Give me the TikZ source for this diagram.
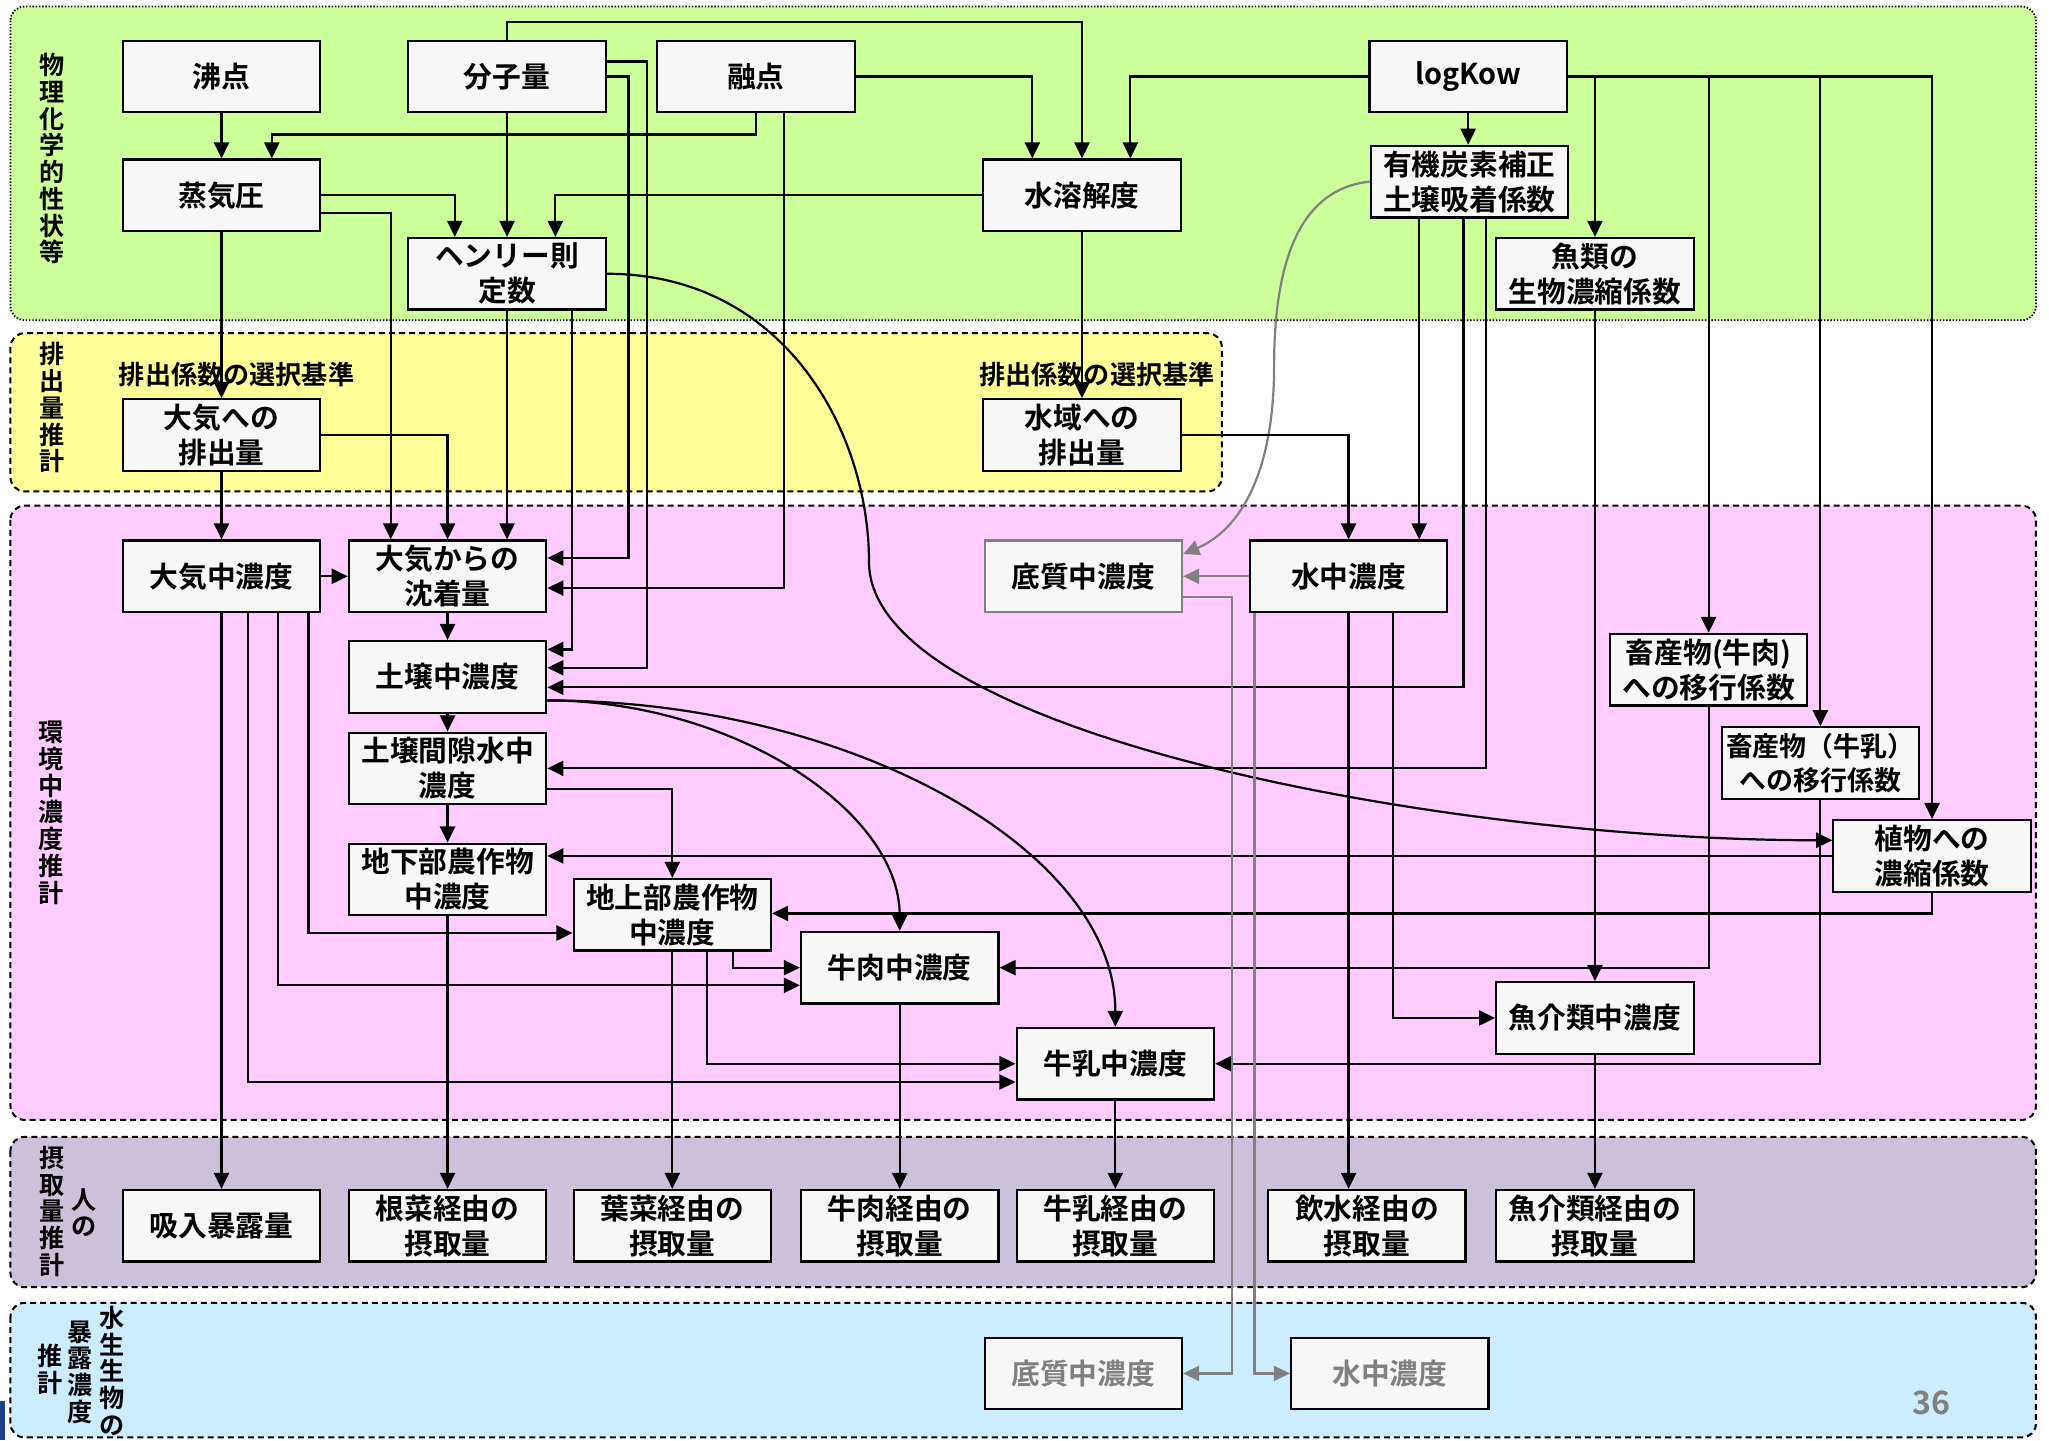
\documentclass[tikz,border=0pt]{standalone}
\usepackage{fontspec}
\setmainfont{Noto Sans CJK JP}[BoldFont={Noto Sans CJK JP Bold}]
\usetikzlibrary{arrows.meta}
\definecolor{cgreen}{HTML}{CCFF99}
\definecolor{cyellow}{HTML}{FFFF99}
\definecolor{cpink}{HTML}{FFCCFF}
\definecolor{clav}{HTML}{CCC0DA}
\definecolor{cblue}{HTML}{CCECFF}
\definecolor{boxfill}{HTML}{F7F7F7}
\definecolor{cgray}{HTML}{808080}
\definecolor{cnavy}{HTML}{1F3F8F}
\begin{document}
\begin{tikzpicture}[x=0.65pt,y=-0.65pt,
  box/.style={draw=black,line width=1.1pt,fill=boxfill,minimum width=98.2pt,minimum height=35.6pt,inner sep=0pt,align=center,font=\bfseries\fontsize{14.3}{17.4}\selectfont},
  gbox/.style={box,draw=cgray},
  tbox/.style={box,text=cgray},
  side/.style={inner sep=0pt,align=center,font=\bfseries\fontsize{12.5}{13.3}\selectfont},
  lbl/.style={inner sep=0pt,font=\bfseries\fontsize{13}{15}\selectfont},
  con/.style={line width=1.1pt,-{Triangle[length=8pt,width=7.5pt]}},
  gcon/.style={con,draw=cgray},
  panel/.style={line width=1pt,dash pattern=on 3pt off 2pt,rounded corners=7pt},
  dpanel/.style={line width=0.9pt,dash pattern=on 0.7pt off 0.9pt,rounded corners=7pt}]
\useasboundingbox (0,0) rectangle (1568,1102);
\fill[white] (0,0) rectangle (1568,1102);
% panels
\draw[dpanel,fill=cgreen] (8,5) rectangle (1558,245);
\draw[panel,fill=cyellow] (8,255) rectangle (935,376);
\draw[panel,fill=cpink] (8,387) rectangle (1558,857);
\draw[panel,fill=clav] (8,870) rectangle (1558,985);
\draw[panel,fill=cblue] (8,997) rectangle (1558,1100);
\fill[cnavy] (0,1072) rectangle (4,1102);
% side labels
\node[side] (s1) at (40,121.5) {物\\理\\化\\学\\的\\性\\状\\等};
\node[side] (s2) at (40,312) {排\\出\\量\\推\\計};
\node[side] (s3) at (39,622) {環\\境\\中\\濃\\度\\推\\計};
\node[side] (s4) at (39.5,927) {摂\\取\\量\\推\\計};
\node[side] (s5) at (64,928) {人\\の};
\node[side] (s6) at (85.5,1049) {水\\生\\生\\物\\の};
\node[side] (s7) at (61.6,1050) {暴\\露\\濃\\度};
\node[side] (s8) at (38.5,1048) {推\\計};
\node[lbl] (l1) at (181,287) {排出係数の選択基準};
\node[lbl] (l2) at (839.5,287) {排出係数の選択基準};
\node[inner sep=0pt,text=cgray,font=\bfseries\fontsize{16}{18}\selectfont] (pg) at (1478,1073.5) {36};
% nodes
\node[box] (futten) at (169.5,58.5) {沸点};
\node[box] (bunshi) at (388,58.5) {分子量};
\node[box] (yuten) at (578.5,58.5) {融点};
\node[box] (logkow) at (1123.5,58.5) {logKow};
\node[box] (joki) at (169.5,149.5) {蒸気圧};
\node[box] (suiyo) at (828,149.5) {水溶解度};
\node[box] (koc) at (1124.5,139) {有機炭素補正\\土壌吸着係数};
\node[box] (henry) at (388,209.5) {ヘンリー則\\定数};
\node[box] (bcf) at (1220.5,209.5) {魚類の\\生物濃縮係数};
\node[box] (taihai) at (169.5,333) {大気への\\排出量};
\node[box] (suihai) at (828,333) {水域への\\排出量};
\node[box] (taiki) at (169.5,441) {大気中濃度};
\node[box] (chaku) at (342.5,441) {大気からの\\沈着量};
\node[gbox] (teishitsu) at (829,441) {底質中濃度};
\node[box] (suichu) at (1032,441) {水中濃度};
\node[box] (dojo) at (342.5,518) {土壌中濃度};
\node[box] (gyunikuk) at (1307.5,512.5) {畜産物(牛肉)\\への移行係数};
\node[box] (kangeki) at (342.5,588) {土壌間隙水中\\濃度};
\node[box,font=\bfseries\fontsize{13.4}{17.4}\selectfont] (gyunyuk) at (1393,584) {畜産物（牛乳）\\への移行係数};
\node[box] (shoku) at (1478.5,655) {植物への\\濃縮係数};
\node[box] (chika) at (342.5,673) {地下部農作物\\中濃度};
\node[box] (chijo) at (514.5,700) {地上部農作物\\中濃度};
\node[box] (gyuniku) at (688.5,740.5) {牛肉中濃度};
\node[box] (gyokai) at (1220.5,779) {魚介類中濃度};
\node[box] (gyunyu) at (853.5,814) {牛乳中濃度};
\node[box] (kyunyu) at (169.5,938) {吸入暴露量};
\node[box] (konsai) at (342.5,938) {根菜経由の\\摂取量};
\node[box] (yosai) at (514.5,938) {葉菜経由の\\摂取量};
\node[box] (nikui) at (688.5,938) {牛肉経由の\\摂取量};
\node[box] (nyui) at (853.5,938) {牛乳経由の\\摂取量};
\node[box] (insui) at (1046,938) {飲水経由の\\摂取量};
\node[box] (gyokaii) at (1220.5,938) {魚介類経由の\\摂取量};
\node[tbox] (teishitsub) at (829,1051) {底質中濃度};
\node[tbox] (suichub) at (1063.5,1051) {水中濃度};
% connectors: physchem
\draw[con] (futten.south) -- (joki.north);
\draw[con] (yuten.south) -- (yuten.south |- 0,103) -- (208,103) -- (joki.north -| 208,0);
\draw[con] (bunshi.north) -- (388,17) -- (828,17) -- (suiyo.north);
\draw[con] (yuten.east) -- (790,58.5) -- (suiyo.north -| 790,0);
\draw[con] (logkow.west) -- (865,58.5) -- (suiyo.north -| 865,0);
\draw[con] (joki.east) -- (348,149.5) -- (henry.north -| 348,0);
\draw[con] (bunshi.south) -- (henry.north);
\draw[con] (suiyo.west) -- (425,149.5) -- (henry.north -| 425,0);
\draw[con] (logkow.south) -- (logkow.south |- koc.north);
\draw[con] (logkow.east) -- (1220.5,58.5) -- (bcf.north);
\draw[con] (logkow.east) -- (1307.5,58.5) -- (gyunikuk.north);
\draw[con] (logkow.east) -- (1393,58.5) -- (gyunyuk.north);
\draw[con] (logkow.east) -- (1478.5,58.5) -- (shoku.north);
% to emissions / environment
\draw[con] (joki.south) -- (taihai.north);
\draw[con] (joki.east |- 0,163) -- (299,163) -- (chaku.north -| 299,0);
\draw[con] (taihai.east) -| (chaku.north);
\draw[con] (henry.south) -- (chaku.north -| henry.south);
\draw[con] (henry.south -| 438,0) -- (438,497) -- (dojo.east |- 0,497);
\draw[con] (bunshi.east |- 0,47) -- (495,47) -- (495,511) -- (dojo.east |- 0,511);
\draw[con] (bunshi.east) -- (481,58.5) -- (481,427) -- (chaku.east |- 0,427);
\draw[con] (yuten.south -| 600,0) -- (600,450) -- (chaku.east |- 0,450);
\draw[con] (henry.east) .. controls (600,209.5) and (665,330) .. (665,430) .. controls (665,560) and (1100,643) .. (shoku.west |- 0,643);
\draw[gcon] (koc.west) .. controls (990,145) and (975,210) .. (975,280) .. controls (975,360) and (950,405) .. (teishitsu.east |- 0,424);
\draw[con] (suiyo.south) -- (suihai.north);
\draw[con] (suihai.east) -| (suichu.north);
\draw[con] (koc.south -| 1086,0) -- (suichu.north -| 1086,0);
\draw[con] (koc.south -| 1120,0) -- (1120,526) -- (dojo.east |- 0,526);
\draw[con] (koc.south -| 1137,0) -- (1137,588) -- (kangeki.east);
\draw[con] (taihai.south) -- (taiki.north);
% environment
\draw[con] (taiki.east) -- (chaku.west);
\draw[con] (chaku.south) -- (dojo.north);
\draw[con] (dojo.south) -- (kangeki.north);
\draw[con] (kangeki.south) -- (chika.north);
\draw[con] (kangeki.east |- 0,604) -- (514.5,604) -- (chijo.north);
\draw[con] (shoku.west) -- (chika.east |- shoku.west);
\draw[con] (shoku.south) -- (1478.5,699) -- (chijo.east |- 0,699);
\draw[con] (dojo.east |- 0,536) .. controls (560,536) and (688.5,620) .. (gyuniku.north);
\draw[con] (dojo.east |- 0,536) .. controls (650,536) and (853.5,650) .. (gyunyu.north);
\draw[con] (taiki.south) -- (kyunyu.north);
\draw[con] (taiki.south -| 236,0) -- (236,714) -- (chijo.west |- 0,714);
\draw[con] (taiki.south -| 213,0) -- (213,754) -- (gyuniku.west |- 0,754);
\draw[con] (taiki.south -| 190,0) -- (190,828) -- (gyunyu.west |- 0,828);
\draw[con] (chijo.south) -- (yosai.north);
\draw[con] (chijo.south -| 541,0) -- (541,814) -- (gyunyu.west);
\draw[con] (chijo.south -| 561,0) -- (561,740.5) -- (gyuniku.west);
\draw[con] (chika.south) -- (konsai.north);
\draw[con] (gyuniku.south) -- (nikui.north);
\draw[con] (gyunyu.south) -- (nyui.north);
\draw[con] (gyunikuk.south) |- (gyuniku.east);
\draw[con] (gyunyuk.south) |- (gyunyu.east);
\draw[con] (bcf.south) -- (gyokai.north);
\draw[con] (suichu.south) -- (insui.north -| suichu.south);
\draw[con] (suichu.south -| 1066,0) |- (gyokai.west);
\draw[con] (gyokai.south) -- (gyokaii.north);
\draw[gcon] (suichu.west) -- (teishitsu.east);
\draw[gcon] (teishitsu.east |- 0,457) -- (943,457) -- (943,1051) -- (teishitsub.east);
\draw[gcon] (suichu.south -| 960,0) |- (suichub.west);
\end{tikzpicture}
\end{document}
